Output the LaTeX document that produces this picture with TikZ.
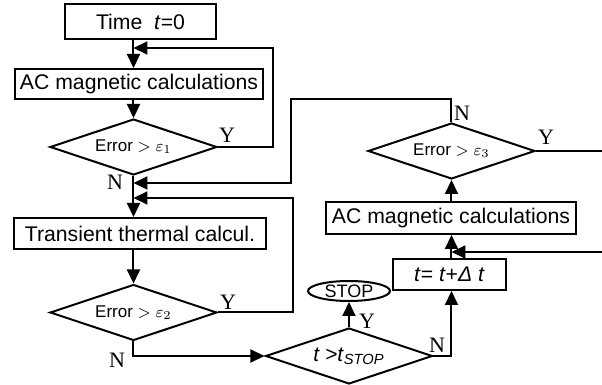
\documentclass[tikz,border=0pt]{standalone}
\usepackage{fontspec}
\setmainfont{Liberation Sans}
\newfontfamily\yesno{Liberation Serif}
\usetikzlibrary{shapes.geometric,arrows.meta}

\begin{document}
\begin{tikzpicture}[x=0.5pt,y=-0.5pt]

    \tikzstyle{every node}=[font=\fontsize{10.6}{12}\selectfont]
    \tikzstyle{calcbox}=[draw, line width=1pt, inner sep=0pt]
    \tikzstyle{testbox}=[draw, diamond, aspect=3, line width=1pt, inner sep=0pt,
        minimum width=83.5pt, minimum height=28pt, font=\fontsize{8.5}{10}\selectfont]
    \tikzstyle{flow}=[line width=1pt, -{Triangle[length=7pt,width=6.5pt]}]
    \tikzstyle{wire}=[line width=1pt]
    \tikzstyle{answer}=[inner sep=0pt, font=\yesno\fontsize{11}{12}\selectfont]

    \useasboundingbox (0,0) rectangle (602,385);

    % Left column: start, AC loop, thermal step
    \node[calcbox, minimum width=75.5pt, minimum height=17.5pt] (time) at (140.5,21.5) {Time\ \ \textit{t}=0};
    \node[calcbox, minimum width=124pt, minimum height=15pt] (ac1) at (139,84) {AC magnetic calculations};
    \node[testbox] (d1) at (133.5,147) {Error $>\varepsilon_1$};
    \node[calcbox, minimum width=126pt, minimum height=15.5pt] (trans) at (140,233.5) {Transient thermal calcul.};
    \node[testbox] (d2) at (133.5,312.5) {Error $>\varepsilon_2$};

    % Right column: time step and second AC loop
    \node[testbox, font=\fontsize{10.5}{12}\selectfont] (d4) at (349,356) {\textit{t >t}\textsubscript{\textit{STOP}}};
    \node[draw, ellipse, line width=1pt, inner sep=0pt, minimum width=41pt, minimum height=10pt,
        font=\fontsize{9}{10}\selectfont] (stop) at (349,291) {STOP};
    \node[calcbox, minimum width=56.5pt, minimum height=15.5pt] (tnext) at (449.5,274.5) {\textit{t}= \textit{t}+\textit{Δ t}};
    \node[calcbox, minimum width=125pt, minimum height=16pt] (ac2) at (451,218) {AC magnetic calculations};
    \node[testbox] (d3) at (451.5,151) {Error $>\varepsilon_3$};

    % Corners of the loops
    \coordinate (loop1) at (273,48);
    \coordinate (loop2) at (293,198);
    \coordinate (loop3a) at (291,99);
    \coordinate (loop3b) at (291,183);
    \coordinate (back) at (602,252);
    \coordinate (exit) at (602,151);

    % Main flow
    \draw[flow] (time.south -| d1) -- (ac1.north -| d1);
    \draw[flow] (ac1.south -| d1) -- (d1.north);
    \draw[flow] (d1.south) -- (trans.north -| d1);
    \draw[flow] (trans.south -| d2) -- (d2.north);
    \draw[flow] (d2.south) |- (d4.west);
    \draw[flow] (d4.north) -- (stop.south);
    \draw[flow] (d4.east) -| (tnext.south -| d3);
    \draw[flow] (tnext.north -| d3) -- (ac2.south -| d3);
    \draw[flow] (ac2.north -| d3) -- (d3.south);

    % Feedback lines
    \draw[flow] (d1.east) -| (loop1) -- (loop1 -| d1);
    \draw[flow] (d2.east) -| (loop2) -- (loop2 -| d1);
    \draw[flow] (d3.north) |- (loop3a) -- (loop3b) -- (loop3b -| d1);
    \draw[flow] (back) -- (back -| d3);
    \draw[wire] (d3.east) -- (exit);

    % Yes / no labels
    \node[answer] (y1) at (227,135) {Y};
    \node[answer] (n1) at (115,182) {N};
    \node[answer] (y2) at (228,302) {Y};
    \node[answer] (n2) at (117,360) {N};
    \node[answer] (y4) at (367,321) {Y};
    \node[answer] (n4) at (437,345) {N};
    \node[answer] (n3) at (462,113) {N};
    \node[answer] (y3) at (546,137) {Y};
\end{tikzpicture}
\end{document}
